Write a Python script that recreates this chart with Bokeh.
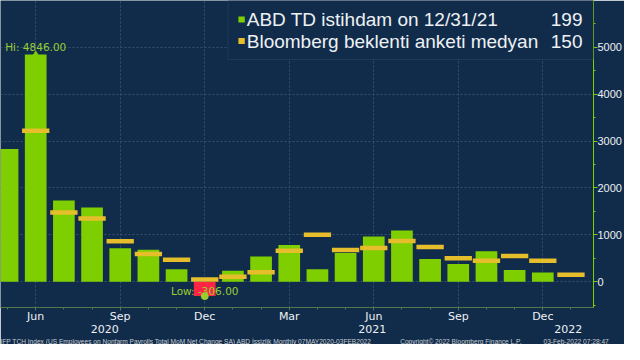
import math
from bokeh.plotting import figure
from bokeh.models import Range1d, FixedTicker, Label, ColumnDataSource, BoxAnnotation, LinearAxis, Title
from bokeh.embed import file_html
from bokeh.resources import INLINE

# ---------------- data ----------------
months = ["May 2020", "Jun 2020", "Jul 2020", "Aug 2020", "Sep 2020", "Oct 2020", "Nov 2020",
          "Dec 2020", "Jan 2021", "Feb 2021", "Mar 2021", "Apr 2021", "May 2021", "Jun 2021",
          "Jul 2021", "Aug 2021", "Sep 2021", "Oct 2021", "Nov 2021", "Dec 2021", "Jan 2022"]
actual = [2830, 4846, 1730, 1583, 716, 680, 264, -306, 233, 536, 785, 269, 614, 962,
          1091, 483, 379, 648, 249, 199, float("nan")]
median = [-8000, 3220, 1475, 1350, 865, 590, 469, 50, 105, 200, 660, 1000, 675, 720,
          870, 740, 500, 450, 550, 450, 150]
quarter_idx = [1, 4, 7, 10, 13, 16, 19]
quarter_labels = ["Jun", "Sep", "Dec", "Mar", "Jun", "Sep", "Dec"]
year_labels = ["2020", "2021", "2022"]
year_pos = [3.45, 12.95, 19.9]
y_ticks = [0, 1000, 2000, 3000, 4000, 5000]
legend_names = ["ABD TD istihdam on 12/31/21", "Bloomberg beklenti anketi medyan"]
legend_values = ["199", "150"]
footer_parts = ["IFP TCH Index (US Employees on Nonfarm Payrolls Total MoM Net Change SA) ABD İşsizlik  Monthly 07MAY2020-03FEB2022",
                "Copyright© 2022 Bloomberg Finance L.P.",
                "03-Feb-2022 07:28:47"]

# ---------------- style ----------------
NAVY = "#112c4b"
GREEN = "#7fce00"
LGREEN = "#9acd32"
YELLOW = "#e6bd2a"
RED = "#ff2445"
GRID = "#33506f"
WHITE = "#eef1f4"
AXIS_GRAY = "#55784a"
NB = "\u00a0"

X0, X1 = -0.25, 20.8
Y0, Y1 = -549, 5996

def fx(px):  # reference pixel -> data x (annotation placement only)
    return (px - 7.3) / 28.7

def fy(py):  # reference pixel -> data y (annotation placement only)
    return (295 - py) / 49.2 * 1000

x = list(range(len(months)))
colors = [RED if (not math.isnan(v) and v < 0) else GREEN for v in actual]
src = ColumnDataSource(dict(x=x, actual=actual, median=median, color=colors))

p = figure(width=624, height=344, x_range=Range1d(X0, X1), y_range=Range1d(Y0, Y1),
           output_backend="svg", toolbar_location=None, y_axis_location="right",
           min_border_left=0, min_border_top=0, min_border_right=0, min_border_bottom=0,
           background_fill_color=NAVY, border_fill_color=NAVY, outline_line_color=None)

# grids
p.xgrid.ticker = FixedTicker(ticks=quarter_idx)
p.ygrid.ticker = FixedTicker(ticks=y_ticks)
for g in (p.xgrid, p.ygrid):
    g.grid_line_color = GRID
    g.grid_line_dash = "2 2"
    g.grid_line_width = 1

# bars + medians
p.vbar(x="x", top="actual", width=0.77, color="color", source=src, line_color=None)
p.rect(x="x", y="median", width=0.97, height=4.5, height_units="screen",
       color=YELLOW, line_color=None, source=src)

# hi / low markers
vals = [v for v in actual if not math.isnan(v)]
imax = actual.index(max(vals))
imin = actual.index(min(vals))
p.scatter([imax], [actual[imax]], marker="triangle", size=6, color=GREEN)
p.scatter([imin], [actual[imin]], marker="circle", size=7, color=LGREEN)
p.add_layout(Label(x=imax, y=actual[imax], y_offset=1, text=f"Hi: {actual[imax]:.2f}",
                   text_align="center", text_baseline="bottom", text_color=LGREEN,
                   text_font="DejaVu Sans", text_font_size="10.5px"))
p.add_layout(Label(x=imin, y=actual[imin], y_offset=5, text=f"Low: {actual[imin]:.2f}",
                   text_align="center", text_baseline="middle", text_color=LGREEN,
                   text_font="DejaVu Sans", text_font_size="10.5px"))

# axes
ya = p.yaxis[0]
ya.ticker = FixedTicker(ticks=y_ticks, minor_ticks=[v + 500 for v in [-1000] + y_ticks])
ya.axis_line_color = GREEN
ya.major_tick_line_color = GREEN
ya.minor_tick_line_color = GREEN
ya.major_tick_in = 0
ya.major_tick_out = 4
ya.minor_tick_in = 0
ya.minor_tick_out = 2
ya.major_label_standoff = 0
ya.axis_label_standoff = 0
ya.axis_label_text_font_size = "0px"
ya.major_label_text_color = WHITE
ya.major_label_text_font = "Liberation Sans"
ya.major_label_text_font_size = "11px"

xa = p.xaxis[0]
xa.ticker = FixedTicker(ticks=quarter_idx, minor_ticks=x)
xa.major_label_overrides = {i: l for i, l in zip(quarter_idx, quarter_labels)}
xa.axis_line_color = AXIS_GRAY
xa.major_tick_line_color = AXIS_GRAY
xa.minor_tick_line_color = AXIS_GRAY
xa.major_tick_in = 0
xa.major_tick_out = 3
xa.minor_tick_in = 0
xa.minor_tick_out = 2
xa.major_label_standoff = -1
xa.axis_label_standoff = 0
xa.axis_label_text_font_size = "0px"
xa.major_label_text_color = WHITE
xa.major_label_text_font = "DejaVu Sans"
xa.major_label_text_font_size = "11px"

# year axis
yr = LinearAxis(ticker=FixedTicker(ticks=year_pos),
                major_label_overrides={pp: l for pp, l in zip(year_pos, year_labels)},
                axis_line_color=None, major_tick_line_color=None, minor_tick_line_color=None,
                major_tick_out=0, minor_tick_out=0,
                major_label_standoff=-1, axis_label_standoff=0, axis_label_text_font_size="0px",
                major_label_text_color=WHITE, major_label_text_font="DejaVu Sans",
                major_label_text_font_size="11px")
p.add_layout(yr, "below")

# footer
footer_text = footer_parts[0] + NB * 16 + footer_parts[1] + NB * 12 + footer_parts[2]
p.add_layout(Title(text=footer_text, align="left", text_color="#c9ccd0", text_font="Liberation Sans",
                   text_font_size="6.6px", text_font_style="normal", standoff=0, offset=0,
                   padding=0, text_line_height=1.0),
             "below")

# legend box
p.add_layout(BoxAnnotation(left=fx(232), right=X1, top=Y1, bottom=fy(62),
                           fill_color=NAVY, fill_alpha=1, line_color="#41607f", line_width=1))
for i, (name, val, col) in enumerate(zip(legend_names, legend_values, [GREEN, YELLOW])):
    cy = fy(20 + 22.5 * i)
    p.add_layout(BoxAnnotation(left=fx(242.5), right=fx(249), top=cy + 65, bottom=cy - 65,
                               fill_color=col, fill_alpha=1, line_color=None))
    p.add_layout(Label(x=fx(251), y=cy, text=name, text_align="left", text_baseline="middle",
                       text_color=WHITE, text_font="Liberation Sans", text_font_size="19px"))
    p.add_layout(Label(x=fx(593), y=cy, text=val, text_align="right", text_baseline="middle",
                       text_color=WHITE, text_font="Liberation Sans", text_font_size="19px"))

open("out.html", "w").write(file_html(p, INLINE))
